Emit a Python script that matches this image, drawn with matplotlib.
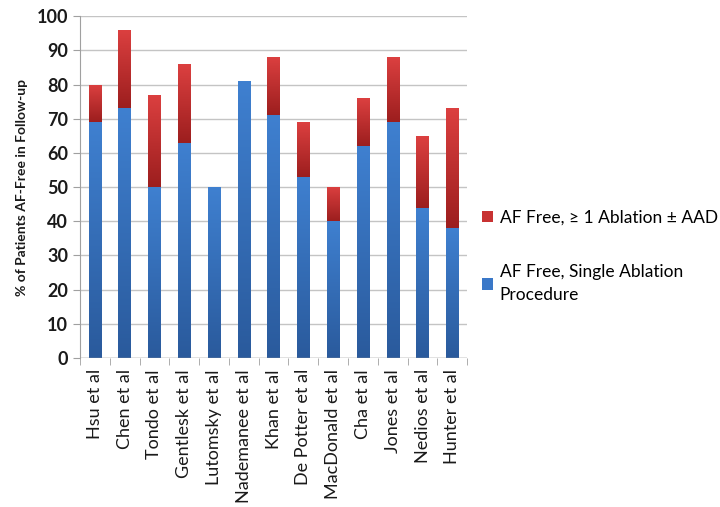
import numpy as np
import matplotlib
matplotlib.use("Agg")
import matplotlib.pyplot as plt
from matplotlib.colors import LinearSegmentedColormap
from matplotlib.patches import Patch

studies = ["Hsu et al", "Chen et al", "Tondo et al", "Gentlesk et al", "Lutomsky et al",
           "Nademanee et al", "Khan et al", "De Potter et al", "MacDonald et al",
           "Cha et al", "Jones et al", "Nedios et al", "Hunter et al"]
single = [69, 73, 50, 63, 50, 81, 71, 53, 40, 62, 69, 44, 38]
total = [80, 96, 77, 86, 50, 81, 88, 69, 50, 76, 88, 65, 73]
extra = [t - s for t, s in zip(total, single)]

plt.rcParams['font.family'] = ['Lato', 'DejaVu Sans']

fig = plt.figure(figsize=(7.2, 5.07), dpi=100)
ax = fig.add_axes([0.111, 0.294, 0.538, 0.674])

x = np.arange(len(studies))
w = 0.42
b1 = ax.bar(x, single, w, color="#3a78c8", zorder=2)
b2 = ax.bar(x, extra, w, bottom=single, color="#c83232", zorder=2)

blue_cm = LinearSegmentedColormap.from_list("b", ["#2a5a9c", "#3f80d0"])
red_cm = LinearSegmentedColormap.from_list("r", ["#9c1e1e", "#dc4040"])
grad = np.linspace(0, 1, 256).reshape(-1, 1)
for bars, cm in ((b1, blue_cm), (b2, red_cm)):
    for p in bars:
        if p.get_height() <= 0:
            continue
        x0, y0 = p.get_x(), p.get_y()
        x1, y1 = x0 + p.get_width(), y0 + p.get_height()
        im = ax.imshow(grad, cmap=cm, extent=[x0, x1, y0, y1], origin="lower",
                       aspect="auto", zorder=3)
        im.set_clip_path(p)
        p.set_facecolor("none")

ax.set_xlim(-0.5, len(studies) - 0.5)
ax.set_ylim(0, 100)
ax.set_yticks(np.arange(0, 101, 10))
ax.yaxis.grid(True, color="#c4c4c4", linewidth=1.0, zorder=0)
ax.set_axisbelow(True)
for s in ["top", "right", "bottom"]:
    ax.spines[s].set_visible(False)
ax.spines["left"].set_color("#a0a0a0")
ax.axhline(0, color="#a0a0a0", linewidth=1.0, zorder=4)

ax.set_xticks(x)
ax.set_xticklabels(studies, rotation=90, fontsize=13, color="#1a1a1a")
ax.tick_params(axis="x", length=0, pad=8)
ax.set_xticks(np.arange(-0.5, len(studies)), minor=True)
ax.tick_params(axis="x", which="minor", length=5, color="#a0a0a0")
ax.tick_params(axis="y", length=5, color="#a0a0a0", labelsize=13, labelcolor="#1a1a1a")
for lab in ax.get_yticklabels():
    lab.set_fontweight("bold")
ax.set_ylabel("% of Patients AF-Free in Follow-up", fontsize=10, fontweight="bold",
              color="#1a1a1a", labelpad=6)

handles = [Patch(facecolor="#c83232"), Patch(facecolor="#3a78c8")]
labels = ["AF Free, \u2265 1 Ablation \u00b1 AAD", "AF Free, Single Ablation\nProcedure"]
leg = fig.legend(handles, labels, loc="upper left", bbox_to_anchor=(0.648, 0.618),
                 frameon=False, fontsize=12.5, handlelength=0.6, handleheight=0.6,
                 handletextpad=0.4, labelspacing=2.25)
for t in leg.get_texts():
    t.set_linespacing(1.5)

fig.savefig("out.png", dpi=100)
